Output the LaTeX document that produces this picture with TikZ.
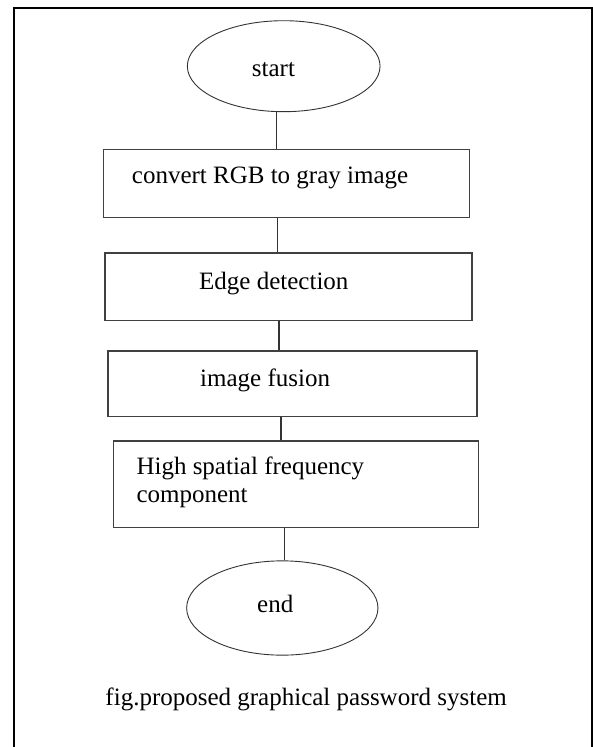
\documentclass[tikz,border=0pt]{standalone}
\usepackage{fontspec}
\setmainfont{Liberation Serif}
\usetikzlibrary{shapes.geometric}
\begin{document}
\begin{tikzpicture}[x=1pt,y=-1pt,
  term/.style={draw=black!80,line width=0.9pt,ellipse,inner sep=0pt},
  procbox/.style={draw=black!75,line width=1.3pt,rectangle,inner sep=0pt},
  lbl/.style={anchor=base west,inner sep=0pt,font=\fontsize{25}{28.7}\selectfont},
  conn/.style={draw=black!80,line width=1.3pt}]
\useasboundingbox (0,0) rectangle (593,747);
% outer frame (open at bottom)
\draw[line width=2pt] (14,747) -- (14,7.75) -- (591.5,7.75) -- (591.5,747);
% terminals
\node[term,minimum width=192.7pt,minimum height=91pt] (start) at (283.7,66.2) {};
\node[term,minimum width=191.3pt,minimum height=94.3pt] (end) at (282.3,608) {};
% process boxes
\node[procbox,minimum width=366pt,minimum height=68pt] (b1) at (286.5,183.5) {};
\node[procbox,minimum width=367pt,minimum height=67.5pt] (b2) at (288.5,286.75) {};
\node[procbox,minimum width=369pt,minimum height=65.5pt] (b3) at (292.5,383.75) {};
\node[procbox,minimum width=365pt,minimum height=86.7pt] (b4) at (295.8,484.35) {};
% texts
\node[lbl] (tstart) at (251.7,76.7) {start};
\node[lbl] (t1) at (131.7,183) {convert RGB to gray image};
\node[lbl] (t2) at (199,289) {Edge detection};
\node[lbl] (t3) at (200,386.7) {image fusion};
\node[lbl] (t4a) at (136.3,474) {High spatial frequency};
\node[lbl] (t4b) at (136.3,502.7) {component};
\node[lbl] (tend) at (257,612.3) {end};
\node[lbl,anchor=base east] (cap) at (507,705) {fig.proposed graphical password system};
% connector x positions
\coordinate (x0) at (276.7,0);
\coordinate (x1) at (277.7,0);
\coordinate (x2) at (279,0);
\coordinate (x3) at (281,0);
\coordinate (x4) at (284.5,0);
\draw[conn] (x0 |- start.south) -- (x0 |- b1.north);
\draw[conn] (x1 |- b1.south) -- (x1 |- b2.north);
\draw[conn] (x2 |- b2.south) -- (x2 |- b3.north);
\draw[conn] (x3 |- b3.south) -- (x3 |- b4.north);
\draw[conn] (x4 |- b4.south) -- (x4 |- end.north);
\end{tikzpicture}
\end{document}
